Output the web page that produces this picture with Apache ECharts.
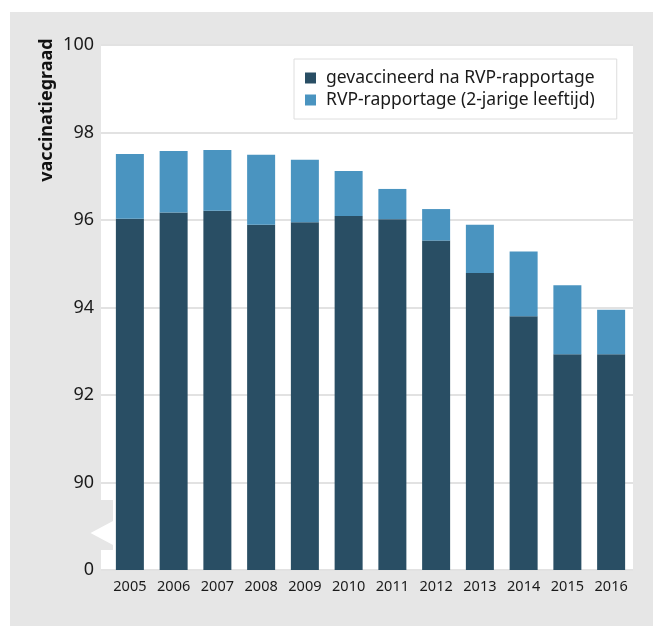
<!DOCTYPE html>
<html>
<head>
<meta charset="utf-8">
<script src="https://cdn.jsdelivr.net/npm/echarts@6/dist/echarts.min.js"></script>
<style>
  html, body { margin: 0; padding: 0; background: #fff; }
  #chart { width: 653px; height: 626px; }
</style>
</head>
<body>
<div id="chart"></div>
<script>
// jaren
var years = ['2005', '2006', '2007', '2008', '2009', '2010', '2011', '2012', '2013', '2014', '2015', '2016'];
// gevaccineerd na RVP-rapportage (onderste deel)
var afterReport = [96.03, 96.17, 96.21, 95.89, 95.95, 96.09, 96.02, 95.53, 94.79, 93.80, 92.93, 92.93];
// RVP-rapportage, extra bovenop het donkere deel
var reportPart = [1.48, 1.41, 1.39, 1.60, 1.43, 1.03, 0.69, 0.72, 1.10, 1.48, 1.58, 1.02];
// y-as: 88 wordt als 0 getoond (gebroken as)
var yMin = 88, yMax = 100, yStep = 2;

var font = 'Noto Sans';
var myChart = echarts.init(document.getElementById('chart'), null, { renderer: 'canvas' });

myChart.setOption({
  animation: false,
  color: ['#294e64', '#4a94c0'],
  textStyle: { fontFamily: font },
  graphic: [
    // grijze achtergrond
    { type: 'rect', z: -10, silent: true, shape: { x: 10, y: 12, width: 643, height: 614 }, style: { fill: '#e6e6e6' } },
    // asbreuk
    { type: 'rect', z: 100, silent: true, shape: { x: 100, y: 500, width: 13, height: 50 }, style: { fill: '#e6e6e6' } },
    { type: 'polygon', z: 101, silent: true, shape: { points: [[113, 521], [90.5, 533], [113, 545]] }, style: { fill: '#fff' } },
    // as-titel
    {
      type: 'text', z: 100, x: 47, y: 110, rotation: Math.PI / 2,
      style: {
        text: 'vaccinatiegraad', fontFamily: font, fontSize: 18, fontWeight: 'bold',
        fill: '#111', align: 'center', verticalAlign: 'middle'
      }
    }
  ],
  grid: [
    // witte vlak + rasterlijnen
    { left: 101, right: 20, top: 45, bottom: 56, show: true, backgroundColor: '#fff', borderWidth: 0 },
    // staven
    { left: 108, right: 20, top: 45, bottom: 56 }
  ],
  legend: {
    orient: 'vertical',
    left: 294,
    top: 59,
    backgroundColor: '#fff',
    borderColor: '#dedede',
    borderWidth: 1,
    padding: [10, 22, 10, 11],
    itemWidth: 11,
    itemHeight: 11,
    itemGap: 4,
    icon: 'rect',
    textStyle: { fontFamily: font, fontSize: 17.5, color: '#1a1a1a', padding: [0, 0, 0, 5] },
    data: ['gevaccineerd na RVP-rapportage', 'RVP-rapportage (2-jarige leeftijd)']
  },
  xAxis: [
    { type: 'value', gridIndex: 0, show: false, min: 0, max: 1 },
    {
      type: 'category',
      gridIndex: 1,
      data: years,
      axisLine: { show: false },
      axisTick: { show: false },
      axisLabel: { color: '#1a1a1a', fontSize: 14.5, margin: 9, fontFamily: font }
    }
  ],
  yAxis: [
    {
      type: 'value',
      gridIndex: 0,
      min: yMin,
      max: yMax,
      interval: yStep,
      axisLine: { show: false },
      axisTick: { show: false },
      axisLabel: {
        color: '#1a1a1a', fontSize: 18, margin: 7, fontFamily: font,
        formatter: function (v) { return v === yMin ? '0' : String(v); }
      },
      splitLine: { lineStyle: { color: '#e2e2e2', width: 2 } }
    },
    {
      type: 'value',
      gridIndex: 1,
      min: yMin,
      max: yMax,
      interval: yStep,
      show: false,
      splitLine: { show: false }
    }
  ],
  series: [
    {
      name: 'gevaccineerd na RVP-rapportage',
      type: 'bar',
      xAxisIndex: 1,
      yAxisIndex: 1,
      stack: 'vac',
      barWidth: 28,
      clip: true,
      data: afterReport
    },
    {
      name: 'RVP-rapportage (2-jarige leeftijd)',
      type: 'bar',
      xAxisIndex: 1,
      yAxisIndex: 1,
      stack: 'vac',
      barWidth: 28,
      clip: true,
      data: reportPart
    }
  ]
});
</script>
</body>
</html>
